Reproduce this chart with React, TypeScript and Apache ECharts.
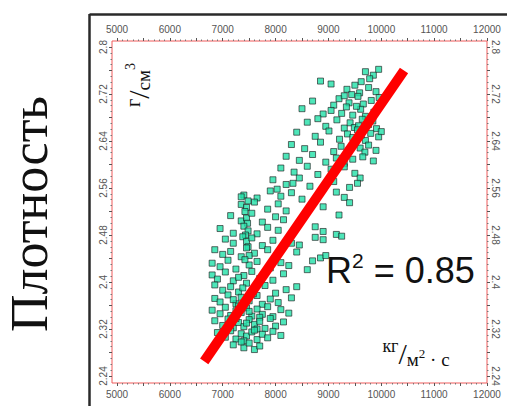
import React, { useEffect, useRef } from "react";
import * as echarts from "echarts";

// Mass flux, kg/(m2·s)
const massFlux: number[] = [
  9700, 9850, 9950, 9780, 9620,
  9350, 9500, 9590, 9760, 9900, 9050, 8850, 9440,
  9200, 9390, 9560, 9660, 9810, 9960, 8700, 9100, 9300,
  9050, 9250, 9340, 9460, 9610, 9700, 9860, 8500, 8900, 9530,
  8600, 8950, 9160, 9300, 9410, 9490, 9640, 9760, 9910, 8800, 9570, 9840,
  8400, 8750, 9010, 9210, 9360, 9460, 9550, 9700, 9800, 9950, 10000, 9620,
  8300, 8550, 8850, 9100, 9240, 9390, 9510, 9600, 9760, 9900, 9690,
  8200, 8450, 8700, 8950, 9150, 9300, 9650, 9850, 9460,
  8100, 8350, 8600, 8800, 9050, 9500, 9600, 9300,
  7950, 8200, 8450, 8650, 9100, 9400, 9550, 8330,
  7400, 7650, 7900, 8100, 8300, 8500, 9150, 9300, 7350, 8030,
  7350, 7450, 7600, 7850, 8050, 8200, 8900, 9400, 7480, 7420,
  7150, 7350, 7450, 7550, 7750, 8000, 8150, 9200, 7470,
  6950, 7200, 7400, 7480, 7650, 7850, 8050, 8750, 8900, 9150, 7430,
  7050, 7200, 7380, 7450, 7550, 7750, 7950, 8300, 8450, 8750, 8900, 7480,
  6850, 7000, 7150, 7350, 7450, 7600, 7850, 8000, 8400, 9250, 7500,
  6800, 6950, 7100, 7250, 7500, 7650, 7900, 8100, 8250, 8700, 8850, 8950, 7420,
  6800, 6900, 7050, 7200, 7400, 7550, 7700, 7950, 8150, 8600, 7300,
  6850, 7000, 7150, 7300, 7450, 7600, 7800, 8000, 8200, 8400, 7380,
  6850, 6950, 7100, 7250, 7350, 7500, 7650, 7750, 7900, 8050, 8300, 7200, 7420, 7580,
  6800, 6950, 7050, 7150, 7250, 7350, 7450, 7550, 7650, 7750, 7850, 7950, 8100, 8250, 7300, 7500, 7700,
  6850, 7000, 7100, 7200, 7300, 7400, 7500, 7600, 7700, 7800, 7900, 8000, 8150, 7250, 7450, 7650,
  6900, 7050, 7150, 7250, 7350, 7450, 7550, 7650, 7750, 7850, 7950, 8100, 7400, 7600,
  7200, 7400, 7500, 7600, 7700, 7350,
];

// Density, g/cm3
const density: number[] = [
  2.758, 2.752, 2.762, 2.746, 2.741,
  2.728, 2.735, 2.722, 2.731, 2.724, 2.737, 2.742, 2.719,
  2.712, 2.705, 2.716, 2.703, 2.709, 2.714, 2.708, 2.701, 2.717,
  2.692, 2.687, 2.698, 2.684, 2.694, 2.682, 2.689, 2.695, 2.686, 2.699,
  2.672, 2.665, 2.676, 2.662, 2.671, 2.663, 2.677, 2.668, 2.661, 2.678, 2.666, 2.674,
  2.655, 2.648, 2.657, 2.643, 2.652, 2.646, 2.659, 2.641, 2.653, 2.647, 2.656, 2.650,
  2.634, 2.627, 2.638, 2.622, 2.631, 2.625, 2.637, 2.628, 2.633, 2.624, 2.621,
  2.614, 2.607, 2.617, 2.604, 2.611, 2.602, 2.613, 2.606, 2.609,
  2.594, 2.587, 2.597, 2.583, 2.592, 2.585, 2.577, 2.596,
  2.574, 2.566, 2.577, 2.563, 2.571, 2.561, 2.568, 2.568,
  2.548, 2.543, 2.555, 2.546, 2.552, 2.541, 2.553, 2.544, 2.545, 2.558,
  2.532, 2.527, 2.536, 2.524, 2.533, 2.521, 2.528, 2.535, 2.538, 2.520,
  2.513, 2.504, 2.509, 2.517, 2.502, 2.511, 2.506, 2.514, 2.500,
  2.491, 2.483, 2.495, 2.487, 2.482, 2.493, 2.488, 2.494, 2.486, 2.481, 2.480,
  2.473, 2.466, 2.477, 2.469, 2.475, 2.462, 2.471, 2.466, 2.463, 2.476, 2.472, 2.460,
  2.455, 2.447, 2.452, 2.443, 2.458, 2.449, 2.455, 2.441, 2.451, 2.478, 2.445,
  2.432, 2.426, 2.437, 2.422, 2.429, 2.435, 2.424, 2.433, 2.428, 2.436, 2.441, 2.445, 2.438,
  2.412, 2.405, 2.417, 2.402, 2.411, 2.418, 2.406, 2.403, 2.414, 2.421, 2.408,
  2.395, 2.386, 2.392, 2.383, 2.398, 2.389, 2.394, 2.381, 2.387, 2.392, 2.390,
  2.372, 2.366, 2.378, 2.363, 2.374, 2.368, 2.377, 2.362, 2.371, 2.365, 2.373, 2.370, 2.361, 2.380,
  2.352, 2.346, 2.357, 2.343, 2.351, 2.348, 2.356, 2.342, 2.354, 2.345, 2.358, 2.341, 2.353, 2.347, 2.359, 2.350, 2.340,
  2.334, 2.326, 2.337, 2.322, 2.331, 2.324, 2.336, 2.328, 2.333, 2.321, 2.338, 2.325, 2.332, 2.338, 2.330, 2.320,
  2.314, 2.306, 2.317, 2.303, 2.312, 2.308, 2.315, 2.302, 2.311, 2.305, 2.316, 2.309, 2.300, 2.318,
  2.293, 2.288, 2.296, 2.285, 2.291, 2.298,
];

// Trend line end points
const trendX: number[] = [6650, 10430];
const trendY: number[] = [2.265, 2.76];

const xTicks = { min: 5000, max: 12000, labelStep: 1000, tickStep: 500 };
const yTicks = { min: 2.24, max: 2.8, labelStep: 0.08, tickStep: 0.04 };

const rSquared = "0.85";

export default function App() {
  const ref = useRef<HTMLDivElement>(null);

  useEffect(() => {
    if (!ref.current) return;
    const chart = echarts.init(ref.current, undefined, { renderer: "svg" });

    const xFmt = (v: number) =>
      Math.round(v) % xTicks.labelStep === 0 ? String(Math.round(v)) : "";
    const yFmt = (v: number) =>
      Math.round(v * 100) % Math.round(yTicks.labelStep * 100) === 0
        ? String(+v.toFixed(2))
        : "";

    const labelStyle = {
      color: "#555",
      fontSize: 10,
      fontFamily: "Liberation Sans, Arial, sans-serif",
    };
    const tickStyle = { show: true, length: 3, lineStyle: { color: "#555", width: 1 } };
    const minorStyle = { show: true, length: 1.5, lineStyle: { color: "#777", width: 1 } };

    const xAxisBase = (position: "top" | "bottom", offset: number, margin: number) => ({
      type: "value",
      position,
      offset,
      min: xTicks.min,
      max: xTicks.max,
      interval: xTicks.tickStep,
      axisLine: { show: false },
      axisTick: tickStyle,
      minorTick: { ...minorStyle, splitNumber: 5 },
      splitLine: { show: false },
      minorSplitLine: { show: false },
      axisLabel: { ...labelStyle, margin, formatter: xFmt, showMinLabel: true, showMaxLabel: true },
    });

    const yAxisBase = (position: "left" | "right", offset: number, margin: number, rotate: number) => ({
      type: "value",
      position,
      offset,
      min: yTicks.min,
      max: yTicks.max,
      interval: yTicks.tickStep,
      axisLine: { show: false },
      axisTick: tickStyle,
      minorTick: { ...minorStyle, splitNumber: 4 },
      splitLine: { show: false },
      minorSplitLine: { show: false },
      axisLabel: { ...labelStyle, margin, rotate, formatter: yFmt, showMinLabel: true, showMaxLabel: true },
    });

    const points = massFlux.map((x, i) => [x, density[i]]);
    const trend = trendX.map((x, i) => [x, trendY[i]]);

    chart.setOption({
      animation: false,
      backgroundColor: "#fff",
      grid: { left: 117, right: 20, top: 47, bottom: 30, containLabel: false },
      xAxis: [xAxisBase("bottom", 7, 6), xAxisBase("top", 6, 7)],
      yAxis: [yAxisBase("left", 5, 4, 90), yAxisBase("right", 0, 3, -90)],
      series: [
        {
          type: "scatter",
          xAxisIndex: 0,
          yAxisIndex: 0,
          data: points,
          symbol: "rect",
          symbolSize: 6,
          itemStyle: { color: "#22e0a8", borderColor: "#1b1b1b", borderWidth: 0.8 },
          z: 2,
        },
        {
          type: "line",
          xAxisIndex: 0,
          yAxisIndex: 0,
          data: trend,
          symbol: "none",
          lineStyle: { color: "#ff0000", width: 10, cap: "butt" },
          z: 3,
        },
      ],
      graphic: [
        {
          type: "line",
          shape: { x1: 89.5, y1: 14.5, x2: 507, y2: 14.5 },
          style: { stroke: "#2a2a2a", lineWidth: 2.5 },
        },
        {
          type: "line",
          shape: { x1: 89.5, y1: 14, x2: 89.5, y2: 406 },
          style: { stroke: "#2a2a2a", lineWidth: 2.5 },
        },
        {
          type: "rect",
          shape: { x: 112, y: 41, width: 375, height: 342 },
          style: { fill: "none", stroke: "#f05a5a", lineWidth: 1 },
          silent: true,
        },
        {
          type: "text",
          x: 29,
          y: 214,
          rotation: Math.PI / 2,
          style: {
            text: "Плотность",
            fill: "#111",
            font: "52px 'Liberation Serif', 'DejaVu Serif', serif",
            align: "center",
            verticalAlign: "middle",
          },
        },
        {
          type: "text",
          x: 138,
          y: 85,
          rotation: Math.PI / 2,
          style: {
            text: "{a|г}{b|/}{c|см}{d|3}",
            align: "center",
            verticalAlign: "middle",
            rich: {
              a: { fontSize: 20, fontFamily: "Liberation Serif", fill: "#111", verticalAlign: "top", lineHeight: 30 },
              b: { fontSize: 30, fontFamily: "Liberation Serif", fill: "#111", lineHeight: 30 },
              c: { fontSize: 19, fontFamily: "Liberation Serif", fill: "#111", verticalAlign: "bottom", lineHeight: 30 },
              d: { fontSize: 14, fontFamily: "Liberation Serif", fill: "#111", verticalAlign: "top", lineHeight: 30 },
            },
          },
        },
        {
          type: "text",
          x: 326,
          y: 270,
          style: {
            text: "{r|R}{s|2}{r| = " + rSquared + "}",
            align: "left",
            verticalAlign: "middle",
            rich: {
              r: { fontSize: 36, fontFamily: "Liberation Sans", fill: "#111", lineHeight: 40 },
              s: { fontSize: 21, fontFamily: "Liberation Sans", fill: "#111", verticalAlign: "top", lineHeight: 40 },
            },
          },
        },
        {
          type: "text",
          x: 416,
          y: 353,
          style: {
            text: "{a|кг}{b|/}{c|м}{d|2}{c| · с}",
            align: "center",
            verticalAlign: "middle",
            rich: {
              a: { fontSize: 18, fontFamily: "Liberation Serif", fill: "#111", verticalAlign: "top", lineHeight: 32 },
              b: { fontSize: 30, fontFamily: "Liberation Serif", fill: "#111", lineHeight: 32 },
              c: { fontSize: 19, fontFamily: "Liberation Serif", fill: "#111", verticalAlign: "bottom", lineHeight: 32 },
              d: { fontSize: 13, fontFamily: "Liberation Serif", fill: "#111", lineHeight: 32 },
            },
          },
        },
      ],
    });

    return () => chart.dispose();
  }, []);

  return (
    <div
      ref={ref}
      style={{ position: "fixed", left: 0, top: 0, width: 507, height: 406, background: "#fff" }}
    />
  );
}
